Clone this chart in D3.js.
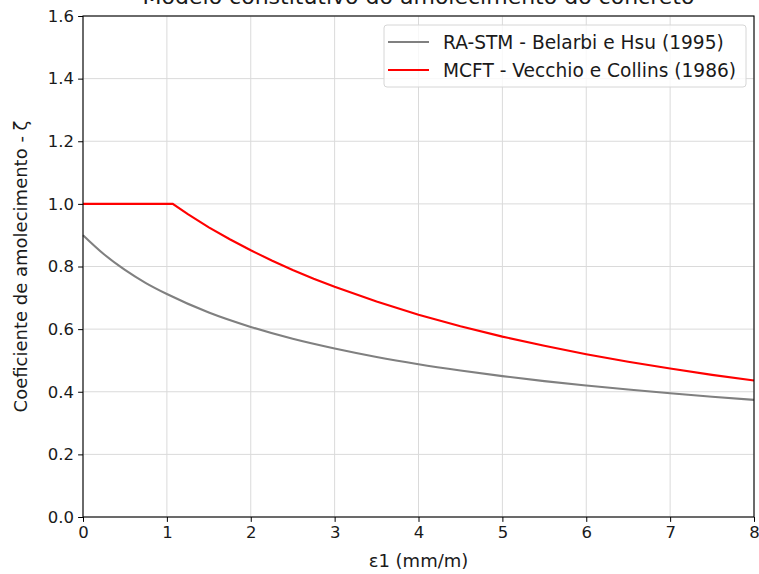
<!DOCTYPE html>
<html>
<head>
<meta charset="utf-8">
<script src="https://cdn.jsdelivr.net/npm/d3@7"></script>
<style>
  body { margin: 0; background: #fff; }
  svg { font-family: "DejaVu Sans", sans-serif; }
</style>
</head>
<body>
<div class="chart"></div>
<script>
// values
var xTicks = [0, 1, 2, 3, 4, 5, 6, 7, 8];
var yTicks = [0.0, 0.2, 0.4, 0.6, 0.8, 1.0, 1.2, 1.4, 1.6];

var raStmX = [0, 0.25, 0.5, 0.75, 1, 1.5, 2, 2.5, 3, 3.5, 4, 4.5, 5, 5.5, 6, 6.5, 7, 7.5, 8];
var raStmY = [0.900, 0.839, 0.789, 0.747, 0.712, 0.653, 0.607, 0.569, 0.538, 0.511, 0.488,
              0.468, 0.450, 0.434, 0.420, 0.407, 0.395, 0.384, 0.374];

var mcftX = [0, 0.5, 1.07, 1.25, 1.5, 1.75, 2, 2.25, 2.5, 2.75, 3, 3.5, 4, 4.5, 5, 5.5, 6, 6.5, 7, 7.5, 8];
var mcftY = [1.000, 1.000, 1.000, 0.967, 0.925, 0.887, 0.852, 0.819, 0.789, 0.761, 0.735, 0.688,
             0.646, 0.609, 0.576, 0.547, 0.520, 0.496, 0.474, 0.454, 0.436];

var seriesNames = ["RA-STM - Belarbi e Hsu (1995)", "MCFT - Vecchio e Collins (1986)"];
var seriesColors = ["#808080", "#ff0000"];

var margin = {top: 16, right: 5, bottom: 57, left: 83},
    width = 759 - margin.left - margin.right,
    height = 574 - margin.top - margin.bottom;

var svg = d3.select(".chart")
    .append("svg")
    .attr("width", 759)
    .attr("height", 574);

var g = svg.append("g")
    .attr("transform", "translate(" + margin.left + "," + margin.top + ")");

var x = d3.scaleLinear().domain([0, 8]).range([0, width]);
var y = d3.scaleLinear().domain([0, 1.6]).range([height, 0]);

// grid
g.append("g").selectAll("line")
  .data(xTicks)
  .enter().append("line")
    .attr("x1", function(d) { return x(d); })
    .attr("x2", function(d) { return x(d); })
    .attr("y1", 0)
    .attr("y2", height)
    .attr("stroke", "#dadada")
    .attr("stroke-width", 1);

g.append("g").selectAll("line")
  .data(yTicks)
  .enter().append("line")
    .attr("x1", 0)
    .attr("x2", width)
    .attr("y1", function(d) { return y(d); })
    .attr("y2", function(d) { return y(d); })
    .attr("stroke", "#dadada")
    .attr("stroke-width", 1);

// curves
var raStm = raStmX.map(function(d, i) { return [d, raStmY[i]]; });
var mcft = mcftX.map(function(d, i) { return [d, mcftY[i]]; });

g.append("path")
    .datum(raStm)
    .attr("fill", "none")
    .attr("stroke", seriesColors[0])
    .attr("stroke-width", 2.1)
    .attr("d", d3.line()
      .x(function(d) { return x(d[0]); })
      .y(function(d) { return y(d[1]); })
      .curve(d3.curveMonotoneX));

g.append("path")
    .datum(mcft)
    .attr("fill", "none")
    .attr("stroke", seriesColors[1])
    .attr("stroke-width", 2.1)
    .attr("d", d3.line()
      .x(function(d) { return x(d[0]); })
      .y(function(d) { return y(d[1]); }));

// axes
var xAxis = g.append("g")
    .attr("transform", "translate(0," + height + ")")
    .call(d3.axisBottom(x).tickValues(xTicks).tickFormat(d3.format("d")).tickSizeOuter(0).tickSize(4.9).tickPadding(4));

var yAxis = g.append("g")
    .call(d3.axisLeft(y).tickValues(yTicks).tickFormat(d3.format(".1f")).tickSizeOuter(0).tickSize(4.9).tickPadding(4));

[xAxis, yAxis].forEach(function(a) {
  a.select(".domain").remove();
  a.selectAll("text").attr("font-size", 16.5).attr("fill", "#1a1a1a").attr("font-family", "DejaVu Sans");
  a.selectAll("line").attr("stroke", "#000").attr("stroke-width", 1);
});

// frame
g.append("rect")
    .attr("x", 0)
    .attr("y", 0)
    .attr("width", width)
    .attr("height", height)
    .attr("fill", "none")
    .attr("stroke", "#000")
    .attr("stroke-width", 1.1);

// labels
svg.append("text")
    .attr("x", margin.left + width / 2)
    .attr("y", 4)
    .attr("text-anchor", "middle")
    .attr("font-size", 22)
    .attr("fill", "#1a1a1a")
    .text("Modelo constitutivo do amolecimento do concreto");

svg.append("text")
    .attr("x", margin.left + width / 2)
    .attr("y", 567)
    .attr("text-anchor", "middle")
    .attr("font-size", 18)
    .attr("fill", "#1a1a1a")
    .text("ε1 (mm/m)");

svg.append("text")
    .attr("transform", "translate(27," + (margin.top + height / 2) + ") rotate(-90)")
    .attr("text-anchor", "middle")
    .attr("font-size", 18)
    .attr("fill", "#1a1a1a")
    .text("Coeficiente de amolecimento - ζ");

// legend
var legend = g.append("g")
    .attr("transform", "translate(" + (x(8) - 370) + ",9)");

legend.append("rect")
    .attr("width", 362)
    .attr("height", 62)
    .attr("rx", 3)
    .attr("fill", "#fff")
    .attr("fill-opacity", 0.8)
    .attr("stroke", "#d6d6d6")
    .attr("stroke-width", 1);

var item = legend.selectAll(".item")
  .data(seriesNames)
  .enter().append("g")
    .attr("class", "item")
    .attr("transform", function(d, i) { return "translate(0," + (17 + i * 28) + ")"; });

item.append("line")
    .attr("x1", 4)
    .attr("x2", 45)
    .attr("stroke", function(d, i) { return seriesColors[i]; })
    .attr("stroke-width", 2.1);

item.append("text")
    .attr("x", 59)
    .attr("dy", "0.35em")
    .attr("font-size", 18.6)
    .attr("fill", "#1a1a1a")
    .text(function(d) { return d; });
</script>
</body>
</html>
